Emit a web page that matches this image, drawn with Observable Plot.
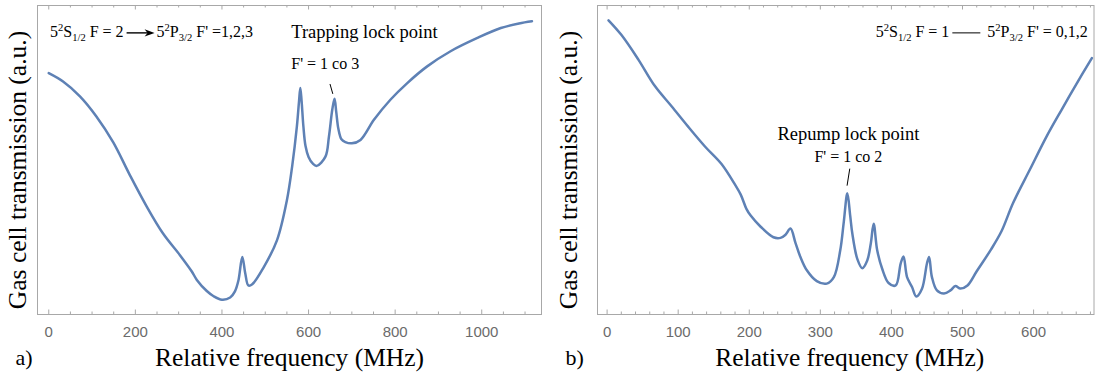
<!DOCTYPE html>
<html><head><meta charset="utf-8">
<script src="https://cdn.jsdelivr.net/npm/d3@7"></script>
<script src="https://cdn.jsdelivr.net/npm/@observablehq/plot@0.6"></script>
<style>
body{margin:0;background:#fff;}
#wrap{display:flex;width:1107px;height:374px;overflow:hidden;}
#wrap svg{display:block;overflow:visible;}
</style></head><body><div id="wrap"></div>
<script>
// ---- Panel a data (MHz, transmission a.u.) ----
const freqA = [0,33,72,110,149,187,226,264,303,330,342,365,380,400,419,430,438,447,454,461,470,496,527,550,562,573,578,581,584,588,593,600,610,619,639,647,655,660,664,669,676,685,700,720,751,789,828,874,928,990,1044,1086,1116];
const transA = [0.781,0.754,0.706,0.641,0.557,0.452,0.350,0.262,0.192,0.140,0.112,0.076,0.060,0.048,0.055,0.075,0.110,0.186,0.132,0.094,0.098,0.152,0.240,0.370,0.478,0.608,0.690,0.733,0.690,0.610,0.545,0.510,0.488,0.481,0.511,0.575,0.665,0.698,0.655,0.600,0.567,0.558,0.554,0.565,0.630,0.695,0.749,0.803,0.852,0.895,0.927,0.942,0.949];
// ---- Panel b data ----
const freqB = [2,20,44,67,91,114,138,161,180,188,196,202,216,234,244,251,258,265,272,281,295,309,319,328,333,338,342,345,352,359,366,371,375,380,387,396,406,413,417,422,429,435,443,450,453,457,464,474,483,490,497,507,520,540,555,571,595,618,640,660,682];
const transB = [0.952,0.905,0.825,0.740,0.673,0.608,0.543,0.487,0.420,0.388,0.342,0.320,0.284,0.250,0.248,0.258,0.278,0.232,0.186,0.143,0.108,0.100,0.121,0.208,0.300,0.392,0.320,0.262,0.180,0.150,0.175,0.230,0.294,0.208,0.148,0.102,0.094,0.165,0.188,0.121,0.089,0.058,0.083,0.165,0.186,0.121,0.078,0.068,0.078,0.092,0.084,0.094,0.140,0.210,0.270,0.360,0.470,0.575,0.665,0.745,0.830];
// ---- Ticks ----
const majorA = [0,200,400,600,800,1000];
const minorA = [50,100,150,250,300,350,450,500,550,650,700,750,850,900,950,1050,1100];
const majorB = [0,100,200,300,400,500,600];
const minorB = [20,40,60,80,120,140,160,180,220,240,260,280,320,340,360,380,420,440,460,480,520,540,560,580,620,640,660,680];
// ---- Texts ----
const xTitle = "Relative frequency (MHz)";
const yTitle = "Gas cell transmission (a.u.)";
const tagA = "a)", tagB = "b)";
const annA = [
  {text: "Trapping lock point", x: 560, y: 0.913, size: 18.5},
  {text: "F' = 1 co 3", x: 560, y: 0.812, size: 16}
];
const pointerA = [{x1: 649.5, y1: 0.746, x2: 656, y2: 0.714}];
const annB = [
  {text: "Repump lock point", x: 339.5, y: 0.585, size: 18.5},
  {text: "F' = 1 co 2", x: 339.5, y: 0.509, size: 16}
];
const pointerB = [{x1: 341.4, y1: 0.472, x2: 337.6, y2: 0.417}];
const transA_label = {left: [["5","n"],["2","sup"],["S","n"],["1/2","sub"],[" F = 2","n"]],
                      right: [["5","n"],["2","sup"],["P","n"],["3/2","sub"],[" F' =1,2,3","n"]],
                      x: 4, y: 0.913, arrow: true, anchor: "start"};
const transB_label = {left: [["5","n"],["2","sup"],["S","n"],["1/2","sub"],[" F = 1","n"]],
                      right: [["5","n"],["2","sup"],["P","n"],["3/2","sub"],[" F' = 0,1,2","n"]],
                      x: 677, y: 0.913, arrow: false, anchor: "end"};

const SERIF = "'Liberation Serif', 'Times New Roman', serif";
const SANS = "'Liberation Sans', Arial, sans-serif";
const GRID = "#a8a8a8";
const BLUE = "#5E81B5";

function panel(o) {
  const data = o.freq.map((f, i) => ({f, t: o.trans[i]}));
  const frameH = 374 - o.mt - o.mb;
  const tickMarks = (arr, len) => [
    Plot.tickX(arr, {x: d => d, stroke: GRID, strokeWidth: 1, insetTop: frameH - len}),
    Plot.tickX(arr, {x: d => d, stroke: GRID, strokeWidth: 1, insetBottom: frameH - len})
  ];
  return Plot.plot({
    width: o.width, height: 374,
    marginLeft: o.ml, marginRight: o.mr, marginTop: o.mt, marginBottom: o.mb,
    x: {domain: o.xDomain},
    y: {domain: [0, 1], axis: null},
    style: {background: "white", overflow: "visible"},
    marks: [
      Plot.frame({stroke: GRID, strokeWidth: 1}),
      ...tickMarks(o.minor, 2.5),
      ...tickMarks(o.major, 4.5),
      Plot.axisX(o.major, {anchor: "bottom", tickSize: 0, tickPadding: 12, tickFormat: d => String(d), fontSize: 15, fontFamily: SANS, color: "#6b6b6b", label: null}),
      Plot.line(data, {x: "f", y: "t", stroke: BLUE, strokeWidth: 2.5, curve: "catmull-rom"}),
      Plot.text(o.ann, {x: "x", y: "y", text: "text", fontSize: d => d.size, fontFamily: SERIF, fill: "black", textAnchor: o.annAnchor, lineAnchor: "middle"}),
      Plot.link(o.pointer, {x1: "x1", y1: "y1", x2: "x2", y2: "y2", stroke: "black", strokeWidth: 1}),
      Plot.text([xTitle], {text: d => d, frameAnchor: "bottom", dx: o.xTitleDx, dy: 43, fontSize: 25.5, fontFamily: SERIF, fill: "black", lineAnchor: "middle"}),
      Plot.text([yTitle], {text: d => d, frameAnchor: "left", rotate: -90, dx: o.yTitleDx, dy: 10, fontSize: 25.5, fontFamily: SERIF, fill: "black", textAnchor: "middle", lineAnchor: "middle"}),
      Plot.text([o.tag], {text: d => d, frameAnchor: "bottom-left", textAnchor: "start", dx: o.tagDx, dy: 43, fontSize: 22, fontFamily: SERIF, fill: "black", lineAnchor: "middle"})
    ]
  });
}

function addRich(svg, parts, x, baseline, size) {
  const t = d3.select(svg).append("text").attr("x", x).attr("y", baseline)
    .attr("text-anchor", "start")
    .attr("font-family", SERIF).attr("font-size", size).attr("fill", "#000");
  let cur = 0;
  for (const [s, k] of parts) {
    const target = k === "sup" ? -0.4 * size : k === "sub" ? 0.22 * size : 0;
    t.append("tspan").attr("dy", target - cur).attr("font-size", k === "n" ? size : size * 0.66)
      .text(s.replace(/^ /, "\u00a0"));
    cur = target;
  }
  return t;
}

function transitionLabel(plot, L) {
  const sx = plot.scale("x"), sy = plot.scale("y");
  const size = 16;
  const cy = sy.apply(L.y);
  const base = cy + 5.3;
  const t1 = addRich(plot, L.left, 0, base, size);
  const t2 = addRich(plot, L.right, 0, base, size);
  const w1 = t1.node().getComputedTextLength();
  const w2 = t2.node().getComputedTextLength();
  const gapPre = 3, conn = 28, gapPost = L.arrow ? 2 : 7;
  let x0 = sx.apply(L.x);
  if (L.anchor === "end") x0 = x0 - (w1 + gapPre + conn + gapPost + w2);
  t1.attr("x", x0);
  const ax1 = x0 + w1 + gapPre, ax2 = ax1 + conn;
  t2.attr("x", ax2 + gapPost);
  const g = d3.select(plot);
  if (L.arrow) {
    g.append("line").attr("x1", ax1).attr("x2", ax2 - 6).attr("y1", cy + 1).attr("y2", cy + 1)
      .attr("stroke", "#000").attr("stroke-width", 1.4);
    g.append("path").attr("d", `M${ax2},${cy + 1}L${ax2 - 10},${cy - 2.6}L${ax2 - 7},${cy + 1}L${ax2 - 10},${cy + 4.6}Z`).attr("fill", "#000");
  } else {
    g.append("line").attr("x1", ax1).attr("x2", ax2).attr("y1", cy + 1).attr("y2", cy + 1)
      .attr("stroke", "#000").attr("stroke-width", 1);
  }
}

const wrap = document.getElementById("wrap");
const plotA = panel({freq: freqA, trans: transA, xDomain: [-26, 1138], major: majorA, minor: minorA,
  width: 560, ml: 37, mr: 19, mt: 5, mb: 60, ann: annA, annAnchor: "start", pointer: pointerA,
  xTitleDx: 0, yTitleDx: -19.5, tag: tagA, tagDx: -22});
const plotB = panel({freq: freqB, trans: transB, xDomain: [-13.5, 685], major: majorB, minor: minorB,
  width: 547, ml: 37, mr: 13.5, mt: 5, mb: 60, ann: annB, annAnchor: "middle", pointer: pointerB,
  xTitleDx: 4, yTitleDx: -28.4, tag: tagB, tagDx: -32});
wrap.appendChild(plotA);
wrap.appendChild(plotB);
transitionLabel(plotA, transA_label);
transitionLabel(plotB, transB_label);
</script></body></html>
